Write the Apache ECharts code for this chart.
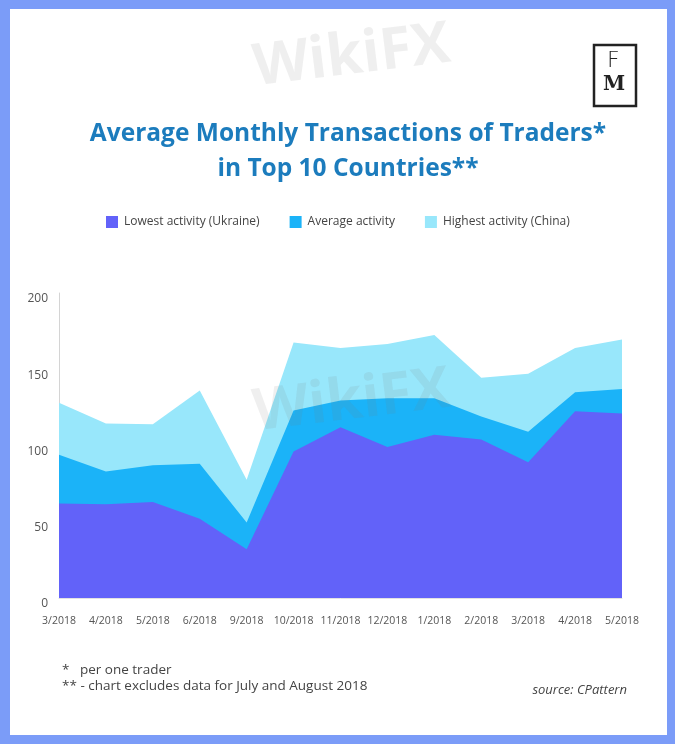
<!DOCTYPE html>
<html>
<head>
<meta charset="utf-8">
<title>Average Monthly Transactions of Traders</title>
<script src="https://cdn.jsdelivr.net/npm/echarts@6/dist/echarts.min.js"></script>
<style>
  html, body { margin: 0; padding: 0; background: #7b9cf8; }
  #chart { width: 675px; height: 744px; }
</style>
</head>
<body>
<div id="chart"></div>
<script>
// months shown (July and August 2018 are left out)
const months = ['3/2018', '4/2018', '5/2018', '6/2018', '9/2018', '10/2018', '11/2018',
  '12/2018', '1/2018', '2/2018', '3/2018', '4/2018', '5/2018'];

// values
const lowest = [62, 61.5, 63, 52, 32, 96, 112, 99, 107, 104, 89, 122.5, 121];
const average = [94, 83, 87, 88, 49.5, 123, 129.5, 131, 131, 119, 109, 135, 137];
const highest = [128, 114.5, 114, 136, 77.5, 167.5, 164, 166.5, 172.5, 144.5, 147, 164, 169.5];

const yTicks = { min: 0, max: 200, step: 50 };

const seriesNames = ['Lowest activity (Ukraine)', 'Average activity', 'Highest activity (China)'];
const colors = { low: '#6262f9', avg: '#1bb3f8', high: '#98e7fb' };

const chart = echarts.init(document.getElementById('chart'));

function areaSeries(name, values, color) {
  return {
    name: name,
    type: 'line',
    data: values,
    symbol: 'none',
    smooth: false,
    lineStyle: { width: 0, color: color },
    itemStyle: { color: color },
    areaStyle: { color: color, opacity: 1 },
    emphasis: { disabled: true }
  };
}

const option = {
  animation: false,
  textStyle: { fontFamily: 'Open Sans' },
  title: {
    text: 'Average Monthly Transactions of Traders*\nin Top 10 Countries**',
    left: 343,
    top: 112,
    textAlign: 'center',
    textStyle: {
      fontFamily: 'Open Sans',
      fontWeight: 'bold',
      fontSize: 24.5,
      lineHeight: 35,
      color: '#1c7cbd'
    }
  },
  legend: {
    data: seriesNames,
    left: 101,
    top: 211,
    icon: 'rect',
    itemWidth: 12,
    itemHeight: 12,
    itemGap: 30,
    textStyle: { fontSize: 12, color: '#444', padding: [0, 0, 0, 1] }
  },
  grid: { left: 59, right: 53, top: 293, bottom: 146, containLabel: false },
  xAxis: {
    type: 'category',
    data: months,
    boundaryGap: false,
    axisLine: { lineStyle: { color: '#e2e2e2' } },
    axisTick: { show: false },
    axisLabel: { fontSize: 10.5, color: '#555', margin: 18, interval: 0 }
  },
  yAxis: {
    type: 'value',
    min: yTicks.min,
    max: yTicks.max,
    interval: yTicks.step,
    axisLine: { show: true, lineStyle: { color: '#d4d4d4' } },
    axisTick: { show: false },
    splitLine: { show: false },
    axisLabel: { fontSize: 12, color: '#555', margin: 11, verticalAlign: 'top' }
  },
  series: [
    areaSeries(seriesNames[2], highest, colors.high),
    areaSeries(seriesNames[1], average, colors.avg),
    areaSeries(seriesNames[0], lowest, colors.low)
  ],
  graphic: [
    // white panel inside the blue frame
    { type: 'rect', z: -10, shape: { x: 10, y: 9, width: 657, height: 726 }, style: { fill: '#ffffff' } },
    // FM logo
    { type: 'rect', shape: { x: 594, y: 45, width: 42, height: 61 }, style: { fill: 'none', stroke: '#222', lineWidth: 2.5 } },
    { type: 'text', x: 607, y: 50, style: { text: 'F', font: '300 22px "DejaVu Sans"', fill: '#222' } },
    { type: 'text', x: 603, y: 75, style: { text: 'M', font: 'bold 20px "DejaVu Serif"', fill: '#222' } },
    // faint watermarks
    { type: 'text', x: 250, y: 40, rotation: 0.12, z: 100,
      style: { text: 'WikiFX', font: 'bold 58px "Open Sans"', fill: 'rgba(120,120,120,0.12)' } },
    { type: 'text', x: 250, y: 385, rotation: 0.12, z: 100,
      style: { text: 'WikiFX', font: 'bold 58px "Open Sans"', fill: 'rgba(120,120,120,0.12)' } },
    // footnotes
    { type: 'text', x: 62, y: 663, style: { text: '*   per one trader', font: '13.5px "Open Sans"', fill: '#444' } },
    { type: 'text', x: 62, y: 679, style: { text: '** - chart excludes data for July and August 2018', font: '13.5px "Open Sans"', fill: '#444' } },
    { type: 'text', x: 627, y: 684, style: { text: 'source: CPattern', font: 'italic 13px "Open Sans"', fill: '#444', align: 'right' } }
  ]
};

chart.setOption(option);
</script>
</body>
</html>
